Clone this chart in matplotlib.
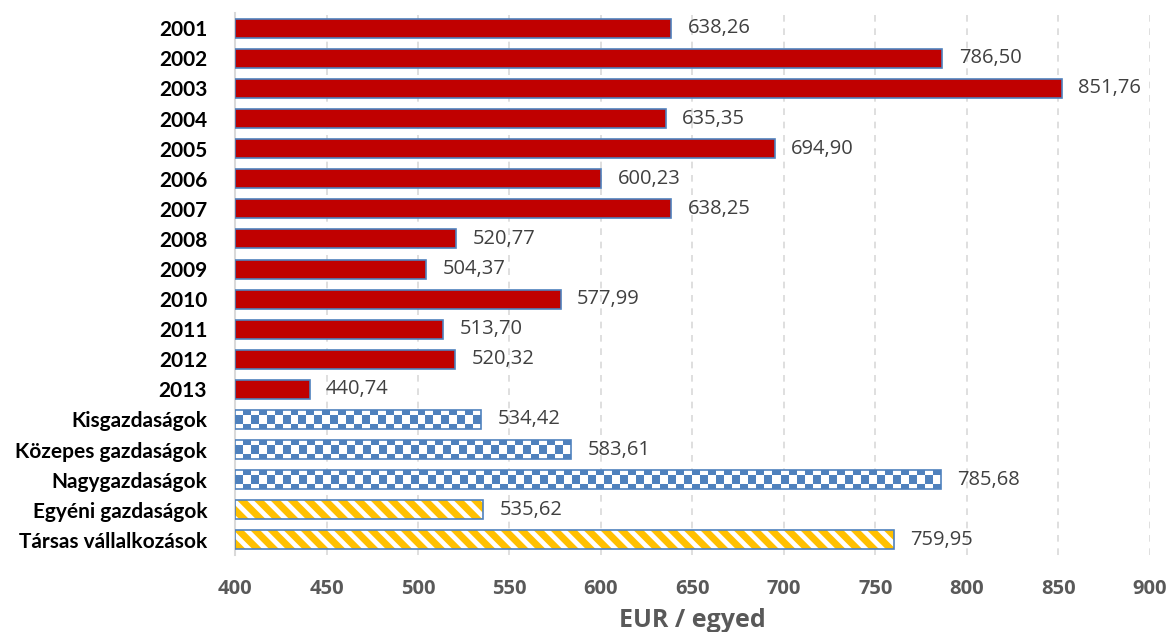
import numpy as np
import matplotlib
matplotlib.use('Agg')
import matplotlib.pyplot as plt

# adatok
labels = ['2001', '2002', '2003', '2004', '2005', '2006', '2007', '2008', '2009',
          '2010', '2011', '2012', '2013', 'Kisgazdaságok', 'Közepes gazdaságok',
          'Nagygazdaságok', 'Egyéni gazdaságok', 'Társas vállalkozások']
values = [638.26, 786.50, 851.76, 635.35, 694.90, 600.23, 638.25, 520.77, 504.37,
          577.99, 513.70, 520.32, 440.74, 534.42, 583.61, 785.68, 535.62, 759.95]
kinds = ['year'] * 13 + ['size'] * 3 + ['form'] * 2

plt.rcParams['font.family'] = ['Open Sans', 'DejaVu Sans']
plt.rcParams['hatch.linewidth'] = 3.5

RED = '#C00000'
BLUE = '#4F81BD'
YELLOW = '#FFC000'
XMIN, XMAX = 400, 900
H = 0.63

fig = plt.figure(figsize=(11.71, 6.32), dpi=100)
ax = fig.add_axes([0.2007, 0.122, 0.7813, 0.857])

cmap = matplotlib.colors.ListedColormap(['white', BLUE])
y = np.arange(len(labels))
for yi, v, k in zip(y, values, kinds):
    if k == 'year':
        ax.barh(yi, v - XMIN, left=XMIN, height=H, color=RED, edgecolor=BLUE,
                linewidth=1.2, zorder=3)
    elif k == 'size':
        # sakktábla minta
        n = int(round((v - XMIN) / 4.4))
        cols = np.arange(n) % 2
        chk = np.vstack([cols, 1 - cols, 1 - cols, cols]).astype(float)
        ax.imshow(chk, cmap=cmap, aspect='auto', interpolation='nearest',
                  extent=(XMIN, v, yi + H / 2, yi - H / 2), zorder=3)
        ax.barh(yi, v - XMIN, left=XMIN, height=H, fill=False, edgecolor=BLUE,
                linewidth=1.2, zorder=4)
    else:
        ax.barh(yi, v - XMIN, left=XMIN, height=H, color=YELLOW, edgecolor='white',
                hatch='\\\\', linewidth=0, zorder=3)
        ax.barh(yi, v - XMIN, left=XMIN, height=H, fill=False, edgecolor=BLUE,
                linewidth=1.2, zorder=4)
    ax.text(v + 9, yi, f'{v:.2f}'.replace('.', ','), va='center', ha='left',
            fontsize=14.5, color='#404040', zorder=5)

ax.set_xlim(XMIN, XMAX)
ax.set_ylim(len(labels) - 0.5, -0.5)
ax.set_xticks(np.arange(400, 901, 50))
ax.set_xticklabels([str(t) for t in range(400, 901, 50)], fontsize=14.5,
                   fontweight='bold', color='#595959')
ax.set_yticks(y)
ax.set_yticklabels(labels, fontsize=15, fontweight='bold', color='black',
                   family=['Lato', 'DejaVu Sans'])
ax.tick_params(axis='both', length=0)
ax.tick_params(axis='x', pad=17)
ax.tick_params(axis='y', pad=20)
ax.set_xlabel('EUR / egyed', fontsize=18, fontweight='bold', color='#595959',
              labelpad=7)

for s in ['top', 'right', 'bottom']:
    ax.spines[s].set_visible(False)
ax.spines['left'].set_color('#D9D9D9')
ax.spines['left'].set_linewidth(1.5)
ax.set_axisbelow(True)
ax.xaxis.grid(True, linestyle=(0, (4, 4)), color='#D9D9D9', linewidth=1.2)
ax.yaxis.grid(False)

fig.savefig('out.png', dpi=100)
